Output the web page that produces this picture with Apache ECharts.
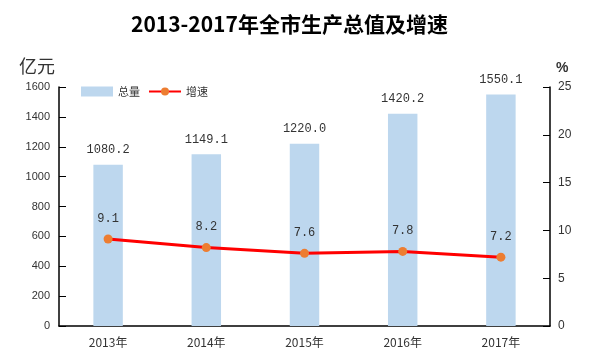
<!DOCTYPE html>
<html><head><meta charset="utf-8">
<script src="https://cdn.jsdelivr.net/npm/echarts@6/dist/echarts.min.js"></script>
<style>html,body{margin:0;padding:0;background:#fff}#c{width:607px;height:358px}</style>
</head><body><div id="c"></div>
<script>
var categories = ['2013年','2014年','2015年','2016年','2017年'];
var totals = [1080.2, 1149.1, 1220.0, 1420.2, 1550.1];
var growth = [9.1, 8.2, 7.6, 7.8, 7.2];

var chart = echarts.init(document.getElementById('c'));
var lblFont = '"Liberation Mono","DejaVu Sans Mono",monospace';
chart.setOption({
  animation: false,
  backgroundColor: '#fff',
  title: {
    text: '2013-2017年全市生产总值及增速',
    left: 126, top: 9,
    textStyle: {fontSize: 21, fontWeight: 'bold', color: '#000', fontFamily: '"Noto Sans CJK SC"'}
  },
  legend: {
    left: 76, top: 81, itemGap: 8, itemWidth: 32, itemHeight: 10,
    textStyle: {fontSize: 11, color: '#333', fontFamily: '"Noto Sans CJK SC"'},
    data: [
      {name: '总量', icon: 'rect'},
      {name: '增速'}
    ]
  },
  grid: {left: 59, right: 57, top: 87, bottom: 32},
  xAxis: {
    type: 'category', data: categories,
    axisLine: {lineStyle: {color: '#000', width: 1.5}},
    axisTick: {show: false},
    axisLabel: {color: '#333', fontSize: 12, margin: 10, fontFamily: '"Noto Sans CJK SC"'}
  },
  yAxis: [
    {
      type: 'value', min: 0, max: 1600, interval: 200,
      name: '亿元', nameLocation: 'end', nameGap: 12,
      nameTextStyle: {fontSize: 18, color: '#333', align: 'right', padding: [0, 4, 0, 0], fontFamily: '"Noto Sans CJK SC"'},
      axisLine: {show: true, lineStyle: {color: '#000', width: 1.5}},
      axisTick: {show: true, inside: true, length: 7, lineStyle: {color: '#000'}},
      splitLine: {show: false},
      axisLabel: {color: '#333', fontSize: 11, margin: 9, fontFamily: 'Liberation Sans',
        formatter: function(v){ return String(v); }}
    },
    {
      type: 'value', min: 0, max: 25, interval: 5,
      name: '%', nameLocation: 'end', nameGap: 12,
      nameTextStyle: {fontSize: 14, fontWeight: 'bold', color: '#333', align: 'left', padding: [0, 0, 0, 6], fontFamily: 'Liberation Sans'},
      axisLine: {show: true, lineStyle: {color: '#000', width: 1.5}},
      axisTick: {show: true, inside: true, length: 7, lineStyle: {color: '#000'}},
      splitLine: {show: false},
      axisLabel: {color: '#333', fontSize: 12, margin: 8, fontFamily: 'Liberation Sans'}
    }
  ],
  series: [
    {
      name: '总量', type: 'bar', data: totals, barWidth: '30%',
      itemStyle: {color: '#BDD7EE'},
      label: {show: true, position: 'top', distance: 9, color: '#333', fontSize: 12, fontFamily: lblFont,
        formatter: function(p){ return p.value.toFixed(1); }}
    },
    {
      name: '增速', type: 'line', yAxisIndex: 1, data: growth,
      symbol: 'circle', symbolSize: 9,
      lineStyle: {color: '#FF0000', width: 3},
      itemStyle: {color: '#ED7D31'},
      label: {show: true, position: 'top', distance: 10, color: '#333', fontSize: 12, fontFamily: lblFont,
        formatter: function(p){ return p.value.toFixed(1); }}
    }
  ]
});
</script></body></html>
